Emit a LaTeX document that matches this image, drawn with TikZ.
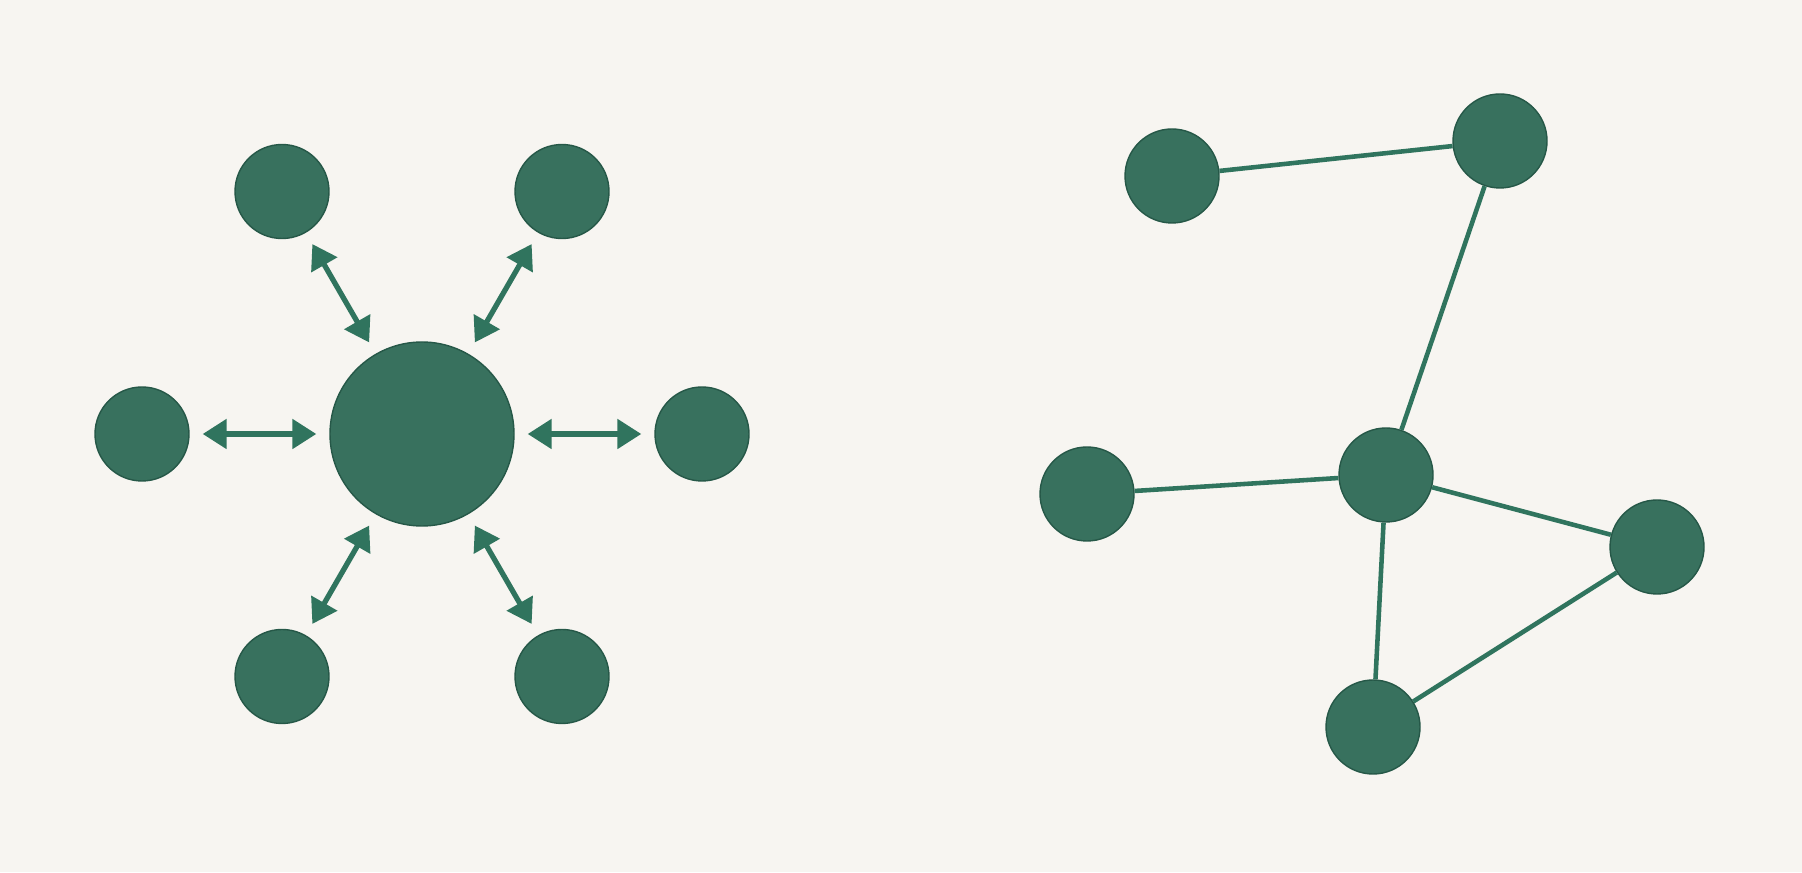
\documentclass[tikz,border=0pt]{standalone}
\usetikzlibrary{arrows.meta}
\definecolor{paper}{RGB}{247,245,241}
\definecolor{nodegreen}{RGB}{56,113,94}
\definecolor{rimgreen}{RGB}{38,88,72}
\definecolor{linkgreen}{RGB}{48,116,94}
\begin{document}
\begin{tikzpicture}[
  hubnode/.style={circle, fill=nodegreen, draw=rimgreen, line width=0.4pt, minimum size=1.84cm, inner sep=0pt},
  leaf/.style={circle, fill=nodegreen, draw=rimgreen, line width=0.4pt, minimum size=0.94cm, inner sep=0pt},
  twoway/.style={{Triangle[length=2.4mm,width=2.9mm]}-{Triangle[length=2.4mm,width=2.9mm]}, draw=linkgreen, line width=1.5pt, shorten <=1.3mm, shorten >=1.3mm},
  link/.style={draw=linkgreen, line width=1.3pt}
]
\fill[paper] (0,0) rectangle (18.02,8.72);

% star: hub with six leaves
\node[hubnode] (hub) at (4.22,4.38) {};
\node[leaf] (east) at ([shift={(0:2.8)}]hub) {};
\node[leaf] (ne) at ([shift={(60:2.8)}]hub) {};
\node[leaf] (nw) at ([shift={(120:2.8)}]hub) {};
\node[leaf] (west) at ([shift={(180:2.8)}]hub) {};
\node[leaf] (sw) at ([shift={(240:2.8)}]hub) {};
\node[leaf] (se) at ([shift={(300:2.8)}]hub) {};

\draw[twoway] (hub) -- (east);
\draw[twoway] (hub) -- (ne);
\draw[twoway] (hub) -- (nw);
\draw[twoway] (hub) -- (west);
\draw[twoway] (hub) -- (sw);
\draw[twoway] (hub) -- (se);

% mesh
\node[leaf] (m_a) at (11.72,6.96) {};
\node[leaf] (m_b) at (15.00,7.31) {};
\node[leaf] (m_c) at (13.86,3.97) {};
\node[leaf] (m_d) at (10.87,3.78) {};
\node[leaf] (m_e) at (16.57,3.25) {};
\node[leaf] (m_f) at (13.73,1.45) {};

\draw[link] (m_a) -- (m_b);
\draw[link] (m_b) -- (m_c);
\draw[link] (m_d) -- (m_c);
\draw[link] (m_c) -- (m_e);
\draw[link] (m_c) -- (m_f);
\draw[link] (m_f) -- (m_e);
\end{tikzpicture}
\end{document}
